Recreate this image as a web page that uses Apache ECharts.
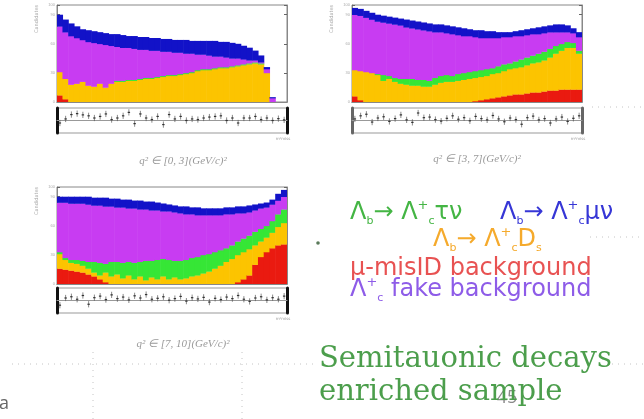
<!DOCTYPE html>
<html>
<head>
<meta charset="utf-8" />
<title>Semitauonic fit</title>
<style>
html, body { margin: 0; padding: 0; background: #fff; }
#main { width: 644px; height: 419px; }
</style>
</head>
<body>
<div id="main"></div>
<script src="https://cdn.jsdelivr.net/npm/echarts@6/dist/echarts.min.js"></script>
<script>
// 40 bins per q2 slice
var bins = [];
for (var i = 0; i < 40; i++) bins.push(String(i));

// q2 in [0,3]
var misid1 = [7,3,0,0,0,0,0,0,0,0, 0,0,0,0,0,0,0,0,0,0, 0,0,0,0,0,0,0,0,0,0, 0,0,0,0,0,0,0,0,0,0];
var ds1    = [24,21,18,19,21,17,16,19,15,19, 21,21,22,22,23,24,24,25,26,27, 27,28,29,30,32,33,33,34,35,35, 36,37,38,39,40,39,30,0,0,0];
var tau1   = [0,0,0,0,0,0,0,0,0,0, 1,1,1,1,1,1,1,1,1,1, 1,1,1,1,1,1,1,1,1,1, 1,1,1,1,1,1,0,0,0,0];
var fake1  = [47,48,50,47,43,45,45,41,44,39, 35,34,33,32,30,29,28,27,25,24, 23,22,20,19,16,15,14,12,11,10, 8,7,5,3,2,1,4,4,0,0];
var mu1    = [12,13,13,12,11,12,12,12,12,12, 13,13,12,13,13,13,13,13,13,13, 13,13,14,13,14,14,15,16,15,16, 16,15,14,13,10,7,2,1,0,0];
var pull1  = [-0.8,0.5,1.9,2.2,1.8,1.5,0.8,1.3,2.1,0.3, 0.8,1.5,2.6,-1.0,2.1,0.8,0.3,1.3,-1.3,1.9, 0.5,1.3,0.0,0.5,0.3,0.8,1.1,1.3,1.5,0.0, 0.8,-0.8,0.8,0.8,1.3,0.3,0.8,0.0,0.6,0.2];

// q2 in [3,7]
var misid2 = [6,2,0,0,0,0,0,0,0,0, 0,0,0,0,0,0,0,0,0,0, 0,1,2,3,4,5,6,7,8,8, 9,10,10,11,12,12,13,13,13,13];
var ds2    = [27,30,31,30,28,22,24,21,19,18, 17,17,16,16,18,20,21,21,22,23, 24,24,24,24,25,25,26,27,27,28, 29,30,31,32,34,38,40,43,43,37];
var tau2   = [0,0,0,0,1,6,3,4,5,6, 7,6,7,6,7,7,7,6,7,7, 7,7,7,7,6,7,7,6,7,8, 8,8,9,9,9,8,7,6,5,3];
var fake2  = [57,57,56,55,54,54,54,55,55,53, 52,52,51,51,47,45,43,43,40,38, 37,35,33,32,31,29,28,27,26,24, 23,22,20,19,17,14,12,10,10,14];
var mu2    = [7,7,7,7,7,7,7,7,7,8, 8,8,8,8,8,8,8,8,8,8, 7,7,8,7,7,6,5,5,5,6, 6,6,7,7,7,8,8,7,5,5];
var pull2  = [0.5,1.5,2.0,-0.5,0.8,1.2,-0.3,0.6,1.8,0.2, -0.6,2.4,0.9,1.1,0.3,-0.2,0.7,1.5,0.4,0.9, -0.1,1.3,0.6,0.2,1.6,0.5,-0.4,0.8,0.3,-1.2, 0.9,1.4,0.2,0.6,-0.8,0.5,1.1,-0.3,0.7,1.5];

// q2 in [7,10]
var misid3 = [16,15,14,13,12,10,8,5,2,0, 0,0,0,0,0,0,0,0,0,0, 0,0,0,0,0,0,0,0,0,0, 0,2,5,9,20,28,33,37,40,41];
var ds3    = [15,10,8,8,7,6,4,4,10,8, 10,6,9,5,8,4,7,5,8,5, 7,5,6,8,9,11,13,16,19,23, 26,28,28,27,20,16,15,16,19,22];
var tau3   = [2,2,3,4,5,7,11,13,9,15, 13,16,14,17,15,20,17,20,18,20, 17,19,19,19,19,19,18,17,16,14, 14,14,14,14,14,13,12,12,13,14];
var fake3  = [51,57,58,58,59,59,58,59,59,57, 56,57,55,56,54,53,52,51,49,50, 50,49,47,45,43,41,40,38,36,35, 32,29,26,24,22,21,19,17,14,13];
var mu3    = [6,6,7,7,7,8,8,8,9,8, 9,8,9,8,9,8,9,8,8,7, 7,7,8,7,8,7,7,7,7,7, 7,7,7,7,6,5,5,5,7,7];
var pull3  = [-1.5,0.8,1.2,0.4,1.6,-1.2,0.9,1.4,0.3,1.8, 0.6,1.1,0.2,1.5,0.8,1.9,0.4,0.7,1.2,0.1, 0.6,1.3,-0.2,0.9,0.5,1.0,-0.5,0.7,0.3,1.1, 0.6,1.6,0.4,-0.3,0.8,1.2,0.2,0.9,0.4,1.4];
var pullErr = 1;

// stack order bottom -> top: mu-misID, Lc Ds, Lc tau nu, fake Lc, Lc mu nu
var colors = ['#ea1a10', '#fcc400', '#36e636', '#c83cf2', '#1212c8'];

var panels = [
	{ left: 57, top: 5, pullTop: 108, edge: '#111', stacks: [misid1, ds1, tau1, fake1, mu1], pull: pull1 },
	{ left: 352, top: 5, pullTop: 108, edge: '#666', stacks: [misid2, ds2, tau2, fake2, mu2], pull: pull2 },
	{ left: 57, top: 187, pullTop: 288, edge: '#111', stacks: [misid3, ds3, tau3, fake3, mu3], pull: pull3 }
];
var captions = ['q² ∈ [0, 3](GeV/c)²', 'q² ∈ [3, 7](GeV/c)²', 'q² ∈ [7, 10](GeV/c)²'];
var capPos = [[183, 161], [477, 159], [183, 344]];

var grid = [], xAxis = [], yAxis = [], series = [];
var W = 230, H = 97, PH = 25;

// stacked histogram: one rect per component per bin, drawn through the axes
function renderStack(params, api) {
	var i = api.value(0);
	var w = api.size([1, 0])[0];
	var cx = api.coord([i, 0])[0];
	var children = [];
	var cum = 0;
	for (var j = 0; j < colors.length; j++) {
		var v = api.value(j + 1);
		if (v > 0) {
			var y0 = api.coord([i, cum])[1];
			var y1 = api.coord([i, cum + v])[1];
			children.push({ type: 'rect',
				shape: { x: cx - w / 2 - 0.3, y: y1, width: w + 0.6, height: y0 - y1 + 0.3 },
				style: { fill: colors[j] } });
		}
		cum += v;
	}
	return { type: 'group', children: children };
}

function renderPull(params, api) {
	var c = api.coord([api.value(0), api.value(1)]);
	var hi = api.coord([api.value(0), api.value(1) + pullErr]);
	var lo = api.coord([api.value(0), api.value(1) - pullErr]);
	return { type: 'group', children: [
		{ type: 'line', shape: { x1: c[0], y1: hi[1], x2: c[0], y2: lo[1] }, style: { stroke: '#555', lineWidth: 0.7 } },
		{ type: 'rect', shape: { x: c[0] - 1.2, y: c[1] - 0.6, width: 2.4, height: 1.2 }, style: { fill: '#333' } }
	] };
}

panels.forEach(function (p, k) {
	var gm = grid.length;
	grid.push({ left: p.left, top: p.top, width: W, height: H, show: true, borderColor: '#888', borderWidth: 1 });
	grid.push({ left: p.left, top: p.pullTop, width: W, height: PH, show: true, borderColor: '#999', borderWidth: 1 });

	var xm = xAxis.length;
	xAxis.push({ type: 'category', gridIndex: gm, data: bins, boundaryGap: true,
		axisLine: { lineStyle: { color: '#888' } },
		axisTick: { inside: true, length: 3, interval: 7, lineStyle: { color: '#666' } },
		axisLabel: { show: false }, z: 5 });
	xAxis.push({ type: 'category', gridIndex: gm, data: bins, position: 'top',
		axisLine: { lineStyle: { color: '#888' } },
		axisTick: { inside: true, length: 2, interval: 1, lineStyle: { color: '#888' } },
		axisLabel: { show: false } });
	xAxis.push({ type: 'category', gridIndex: gm + 1, data: bins,
		axisLine: { lineStyle: { color: '#999' } },
		axisTick: { inside: false, length: 2, interval: 7, lineStyle: { color: '#777' } },
		axisLabel: { show: false } });

	var ym = yAxis.length;
	yAxis.push({ type: 'value', gridIndex: gm, min: 0, max: 100, interval: 30,
		axisLine: { show: true, lineStyle: { color: '#888' } },
		axisTick: { show: true, inside: true, length: 3, lineStyle: { color: '#666' } },
		axisLabel: { fontSize: 4, color: '#aaa', margin: 2 },
		splitLine: { show: false } });
	yAxis.push({ type: 'value', gridIndex: gm, min: 0, max: 100, interval: 30, position: 'right',
		axisLine: { show: true, lineStyle: { color: '#888' } },
		axisTick: { show: true, inside: true, length: 3, lineStyle: { color: '#666' } },
		axisLabel: { show: false }, splitLine: { show: false } });
	yAxis.push({ type: 'value', gridIndex: gm + 1, min: -4, max: 4, interval: 4,
		axisLine: { show: true, lineStyle: { color: p.edge, width: 3 } },
		axisTick: { show: false }, axisLabel: { show: false }, splitLine: { show: false } });
	yAxis.push({ type: 'value', gridIndex: gm + 1, min: -4, max: 4, interval: 4, position: 'right',
		axisLine: { show: true, lineStyle: { color: p.edge, width: 3 } },
		axisTick: { show: false }, axisLabel: { show: false }, splitLine: { show: false } });

	var rows = bins.map(function (b, i) {
		return [i].concat(p.stacks.map(function (s) { return s[i]; }));
	});
	series.push({
		type: 'custom', xAxisIndex: xm, yAxisIndex: ym, clip: true,
		encode: { x: 0, y: [1, 2, 3, 4, 5] },
		data: rows, renderItem: renderStack
	});
	series.push({
		type: 'custom', xAxisIndex: xm + 2, yAxisIndex: ym + 2,
		data: p.pull.map(function (v, i) { return [i, v]; }),
		renderItem: renderPull
	});
});

var dots = { stroke: '#c4c4c4', lineWidth: 1, lineDash: [1, 5] };
var graphic = [
	{ type: 'line', shape: { x1: 12, y1: 364, x2: 318, y2: 364 }, style: dots },
	{ type: 'line', shape: { x1: 612, y1: 364, x2: 644, y2: 364 }, style: dots },
	{ type: 'line', shape: { x1: 93, y1: 352, x2: 93, y2: 419 }, style: dots },
	{ type: 'line', shape: { x1: 242, y1: 352, x2: 242, y2: 419 }, style: dots },
	{ type: 'line', shape: { x1: 592, y1: 107, x2: 644, y2: 107 }, style: dots },
	{ type: 'line', shape: { x1: 590, y1: 237, x2: 644, y2: 237 }, style: dots },
	{ type: 'circle', shape: { cx: 318, cy: 243, r: 1.8 }, style: { fill: '#5a7a5a' } },
	{ type: 'text', x: -1, y: 404, style: { text: 'a', font: '18px "Open Sans"', fill: '#666', verticalAlign: 'middle' } },
	{ type: 'text', x: 507, y: 398, style: { text: '45', font: '18px "Open Sans"', fill: '#8a8a8a', align: 'center', verticalAlign: 'middle' } },
	{ type: 'text', x: 319, y: 359, style: { text: 'Semitauonic decays', font: '29px "DejaVu Serif"', fill: '#4c9e4c', verticalAlign: 'middle' } },
	{ type: 'text', x: 319, y: 392, style: { text: 'enriched sample', font: '29px "DejaVu Serif"', fill: '#4c9e4c', verticalAlign: 'middle' } }
];

captions.forEach(function (t, k) {
	graphic.push({ type: 'text', x: capPos[k][0], y: capPos[k][1],
		style: { text: t, font: 'italic 11px "Liberation Serif"', fill: '#999', align: 'center', verticalAlign: 'middle' } });
	var p = panels[k];
	graphic.push({ type: 'text', x: p.left - 20, y: p.top + 14, rotation: Math.PI / 2,
		style: { text: 'Candidates', font: '5px "DejaVu Sans"', fill: '#aaa', align: 'center', verticalAlign: 'middle' } });
	graphic.push({ type: 'text', x: p.left + W - 4, y: p.pullTop + PH + 6,
		style: { text: 'm²miss', font: '4px "DejaVu Sans"', fill: '#999', align: 'center', verticalAlign: 'middle' } });
});

function legendRich(color) {
	return {
		m: { fontSize: 24, fontFamily: 'DejaVu Sans', fill: color, lineHeight: 28 },
		s: { fontSize: 11, fontFamily: 'DejaVu Sans', fill: color, lineHeight: 8, verticalAlign: 'bottom' },
		p: { fontSize: 13, fontFamily: 'DejaVu Sans', fill: color, lineHeight: 14, verticalAlign: 'top' }
	};
}
var legendItems = [
	{ x: 350, y: 213, color: '#44b544', text: '{m|Λ}{s|b}{m|→ Λ}{p|+}{s|c}{m|τν}' },
	{ x: 500, y: 213, color: '#3636d6', text: '{m|Λ}{s|b}{m|→ Λ}{p|+}{s|c}{m|μν}' },
	{ x: 433, y: 240, color: '#f5aa2c', text: '{m|Λ}{s|b}{m|→ Λ}{p|+}{s|c}{m|D}{s|s}' },
	{ x: 350, y: 269, color: '#e85252', text: '{m|μ-misID background}' },
	{ x: 350, y: 290, color: '#8e5ce8', text: '{m|Λ}{p|+}{s|c}{m| fake background}' }
];
legendItems.forEach(function (it) {
	graphic.push({ type: 'text', x: it.x, y: it.y,
		style: { text: it.text, rich: legendRich(it.color), fill: it.color, verticalAlign: 'middle' } });
});

var chart = echarts.init(document.getElementById('main'));
chart.setOption({
	animation: false,
	backgroundColor: '#fff',
	grid: grid,
	xAxis: xAxis,
	yAxis: yAxis,
	series: series,
	graphic: graphic
});
</script>
</body>
</html>
